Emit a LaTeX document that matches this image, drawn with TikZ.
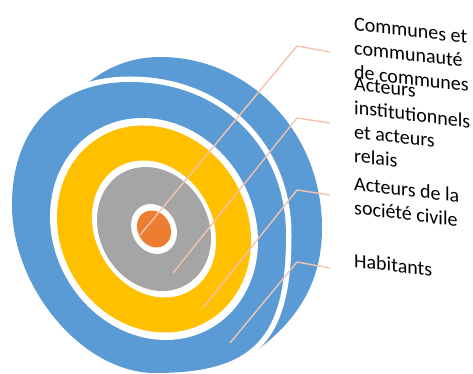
\documentclass[tikz,border=0pt]{standalone}
\usepackage{fontspec}
\setmainfont{Carlito}
\definecolor{ringblue}{HTML}{5B9BD5}
\definecolor{ringyellow}{HTML}{FFC000}
\definecolor{ringgray}{HTML}{A5A5A5}
\definecolor{ringorange}{HTML}{ED7D31}
\definecolor{leader}{HTML}{F4C2B0}
\begin{document}
\begin{tikzpicture}[x=1pt,y=1pt,
  leaderline/.style={draw=leader, line width=1.4pt, line join=round},
  label/.style={anchor=base west, inner sep=0pt, align=left, yslant=-0.12,
    font=\fontsize{20pt}{24pt}\selectfont, text=black}]
\useasboundingbox (0,0) rectangle (473,374);

% back part of the outer blue band (its lower left is hidden by the front part)
\fill[ringblue] (70,274) .. controls (95,302) and (125,317) .. (160,317)
  .. controls (250,317) and (322,241) .. (322,146)
  .. controls (322,84) and (290,44) .. (240,12) -- (170,174) -- cycle;

% front part of the outer blue band, with a white gap around it
\def\frontband{(12,169) .. controls (12,245.3) and (56.8,292) .. (130,292)
  .. controls (220.5,292) and (286,227.7) .. (286,139)
  .. controls (286,35.5) and (253.3,1) .. (155,1)
  .. controls (83.5,1) and (12,85) .. cycle}
\draw[white, line width=11pt] \frontband;
\fill[ringblue] \frontband;

% inner rings
\coordinate (c) at (154,145);
\fill[white, rotate around={-60:(c)}] (c) ellipse [x radius=114.3pt, y radius=100.3pt];
\fill[ringyellow, rotate around={-60:(c)}] (c) ellipse [x radius=106.6pt, y radius=93.6pt];
\fill[white, rotate around={-60:(c)}] (c) ellipse [x radius=71.5pt, y radius=58.5pt];
\fill[ringgray, rotate around={-60:(c)}] (c) ellipse [x radius=64.4pt, y radius=54.3pt];
\fill[white, rotate around={-60:(c)}] (c) ellipse [x radius=25.9pt, y radius=21.9pt];
\fill[ringorange, rotate around={-60:(c)}] (c) ellipse [x radius=19.2pt, y radius=16.2pt];

% leader lines
\coordinate (p1) at (140,139); \coordinate (e1) at (297,328); \coordinate (t1) at (330,322);
\coordinate (p2) at (173,101); \coordinate (e2) at (297,256); \coordinate (t2) at (330,251);
\coordinate (p3) at (203,66);  \coordinate (e3) at (297,184); \coordinate (t3) at (330,179);
\coordinate (p4) at (230,31);  \coordinate (e4) at (297,112); \coordinate (t4) at (330,106);
\draw[leaderline] (p1) -- (e1) -- (t1);
\draw[leaderline] (p2) -- (e2) -- (t2);
\draw[leaderline] (p3) -- (e3) -- (t3);
\draw[leaderline] (p4) -- (e4) -- (t4);

% labels (anchored at the baseline of their last line)
\node[label] (l1) at (354,296) {Communes et\\communauté\\de communes};
\node[label] (l2) at (354,212) {Acteurs\\institutionnels\\et acteurs\\relais};
\node[label] (l3) at (354,160) {Acteurs de la\\société civile};
\node[label] (l4) at (354,107) {Habitants};
\end{tikzpicture}
\end{document}
